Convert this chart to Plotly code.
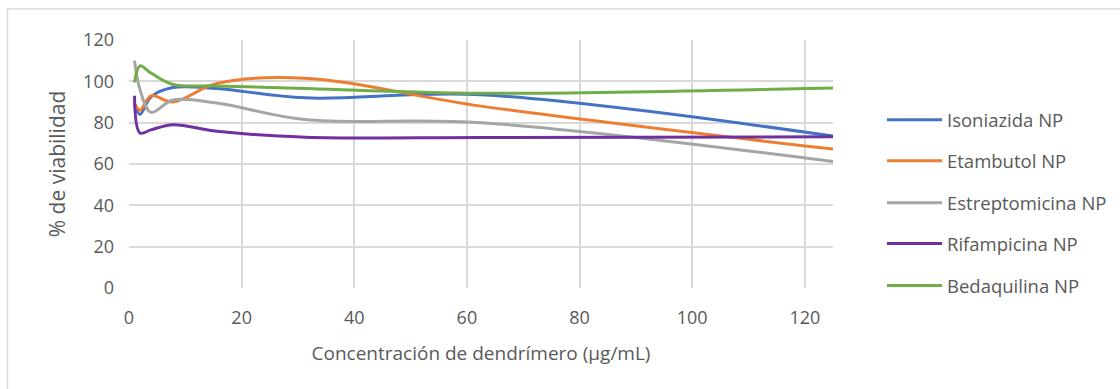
import plotly.graph_objects as go

# Concentration series (µg/mL) and cell viability (%) per nanoparticle formulation
concentracion = [0.98, 1.95, 3.9, 7.8, 15.6, 31.25, 62.5, 125]

series_names = ["Isoniazida NP", "Etambutol NP", "Estreptomicina NP",
                "Rifampicina NP", "Bedaquilina NP"]
isoniazida = [89, 84, 92.5, 97, 96.5, 92, 93.5, 73.5]
etambutol = [89, 86, 93, 90, 99, 101.5, 88, 67.2]
estreptomicina = [110, 96, 85, 91, 89.5, 81.5, 80, 61.2]
rifampicina = [93, 75, 76.5, 79, 75.8, 73, 72.8, 73.2]
bedaquilina = [99.5, 107.5, 104, 98.5, 97.8, 96.5, 94.2, 96.8]

series_values = [isoniazida, etambutol, estreptomicina, rifampicina, bedaquilina]
colors = ["#4472C4", "#ED7D31", "#A5A5A5", "#7030A0", "#70AD47"]

x_ticks = [0, 20, 40, 60, 80, 100, 120]
y_ticks = [0, 20, 40, 60, 80, 100, 120]

W, H = 1120, 389
L, R, T, B = 129, 833, 40, 288.5
pw, ph = R - L, B - T


def px_x(p):
    return (p - L) / pw


def px_y(p):
    return (B - p) / ph


font_family = "Open Sans, Liberation Sans, sans-serif"
text_color = "#595959"
grid_color = "#D9D9D9"

fig = go.Figure()
for name, vals, col in zip(series_names, series_values, colors):
    fig.add_trace(go.Scatter(
        x=concentracion, y=vals, name=name, mode="lines",
        line=dict(color=col, width=3, shape="spline", smoothing=1.0),
        showlegend=False,
    ))

# Legend drawn at the right of the plot area
legend_rows = [120, 161, 203, 244, 286]
shapes = []
annotations = []
for name, col, row in zip(series_names, colors, legend_rows):
    shapes.append(dict(type="line", xref="paper", yref="paper",
                       x0=px_x(887), x1=px_x(942), y0=px_y(row), y1=px_y(row),
                       line=dict(color=col, width=3)))
    annotations.append(dict(xref="paper", yref="paper", x=px_x(945), y=px_y(row),
                            text=name, showarrow=False, xanchor="left", yanchor="middle",
                            font=dict(family=font_family, size=18.5, color=text_color)))

# Chart frame
shapes.append(dict(type="rect", xref="paper", yref="paper",
                   x0=px_x(7.5), x1=px_x(1200), y0=px_y(9), y1=px_y(450),
                   line=dict(color=grid_color, width=1.5), fillcolor="rgba(0,0,0,0)",
                   layer="below"))

fig.update_layout(
    width=W, height=H,
    margin=dict(l=L, r=W - R, t=T, b=H - B, pad=0),
    paper_bgcolor="white", plot_bgcolor="white",
    font=dict(family=font_family, size=18, color=text_color),
    shapes=shapes, annotations=annotations,
    xaxis=dict(
        range=[0, 125], tickmode="array", tickvals=x_ticks,
        showgrid=True, gridcolor=grid_color, gridwidth=1.5,
        zeroline=False, showline=False, ticks="",
        ticklabelstandoff=17, tickfont=dict(size=18),
        title=dict(text="Concentración de dendrímero (µg/mL)", standoff=18,
                   font=dict(size=19, color=text_color)),
        automargin=False,
    ),
    yaxis=dict(
        range=[0, 120], tickmode="array", tickvals=y_ticks,
        showgrid=True, gridcolor=grid_color, gridwidth=1.5,
        zeroline=False, showline=False, ticks="",
        ticklabelstandoff=14, tickfont=dict(size=18),
        title=dict(text="% de viabilidad", standoff=11,
                   font=dict(size=21, color=text_color)),
        automargin=False,
    ),
)

fig.write_html("out.html")
